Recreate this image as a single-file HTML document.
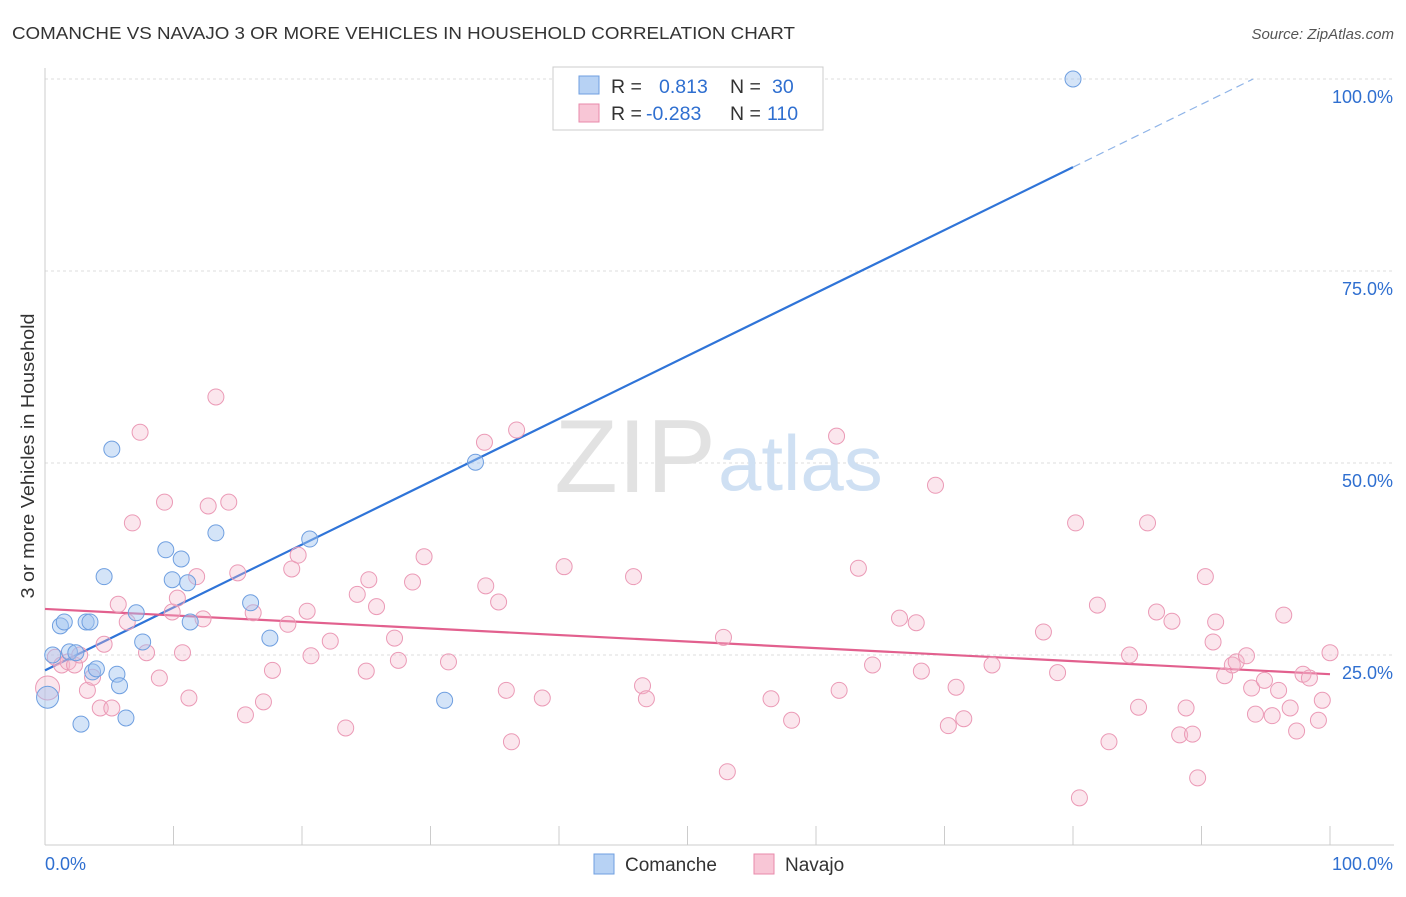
<!DOCTYPE html>
<html><head><meta charset="utf-8"><style>
body{margin:0;background:#fff;font-family:"Liberation Sans",sans-serif;}
svg text{font-family:"Liberation Sans",sans-serif;}
</style></head><body>
<svg id="chart" width="1406" height="892">
<text x="12" y="39" font-size="17.5" fill="#333" textLength="783" lengthAdjust="spacingAndGlyphs">COMANCHE VS NAVAJO 3 OR MORE VEHICLES IN HOUSEHOLD CORRELATION CHART</text>
<text x="1394" y="39" font-size="15" fill="#555" font-style="italic" text-anchor="end">Source: ZipAtlas.com</text>
<text transform="translate(34,456) rotate(-90)" font-size="18.5" fill="#333" text-anchor="middle" textLength="285" lengthAdjust="spacingAndGlyphs">3 or more Vehicles in Household</text>
<g id="grid"></g>
<text x="716" y="492" font-size="104" fill="#e2e2e2" text-anchor="end" font-family="Liberation Serif">ZIP</text>
<text x="718" y="490" font-size="78" fill="#cfe0f3">atlas</text>
<g id="lines"></g>
<g id="pts"></g>
<g>
<rect x="553" y="67" width="270" height="63" fill="#fff" stroke="#ccc"/>
<rect x="579" y="76" width="20" height="18" fill="#b7d2f4" stroke="#6f9fe0"/>
<rect x="579" y="104" width="20" height="18" fill="#f8c6d6" stroke="#e88aab"/>
<text x="611" y="93" font-size="19.5" fill="#333">R = <tspan x="659" fill="#2f6fd0">0.813</tspan><tspan x="730" fill="#333">N = </tspan><tspan x="772" fill="#2f6fd0">30</tspan></text>
<text x="611" y="120" font-size="19.5" fill="#333">R = <tspan x="646" fill="#2f6fd0">-0.283</tspan><tspan x="730" fill="#333">N = </tspan><tspan x="767" fill="#2f6fd0">110</tspan></text>
</g>
<g>
<rect x="594" y="854" width="20" height="20" fill="#b7d2f4" stroke="#6f9fe0"/>
<text x="625" y="871" font-size="19" fill="#333">Comanche</text>
<rect x="754" y="854" width="20" height="20" fill="#f8c6d6" stroke="#e88aab"/>
<text x="785" y="871" font-size="19" fill="#333">Navajo</text>
</g>
</svg>
<script>
const yTicks=[25,50,75,100];
const yTickLabels=["25.0%","50.0%","75.0%","100.0%"];
const comancheX=[0.2,0.6,1.2,1.5,1.9,2.4,2.8,3.2,3.5,3.7,4.0,4.6,5.2,5.6,5.8,6.3,7.1,7.6,9.4,9.9,10.6,11.1,11.3,13.3,16.0,17.5,20.6,31.1,33.5,80.0];
const comancheY=[19.5,25.0,28.8,29.3,25.4,25.3,16.0,29.3,29.3,22.8,23.2,35.2,51.8,22.5,21.0,16.8,30.5,26.7,38.7,34.8,37.5,34.4,29.3,40.9,31.8,27.2,40.1,19.1,50.1,100.0];
const navajoX=[0.2,0.8,1.3,1.8,2.3,2.7,3.3,3.7,4.3,4.6,5.2,5.7,6.4,6.8,7.4,7.9,8.9,9.3,9.9,10.3,10.7,11.2,11.8,12.3,12.7,13.3,14.3,15.0,15.6,16.2,17.0,17.7,18.9,19.2,19.7,20.4,20.7,22.2,23.4,24.3,25.0,25.2,25.8,27.2,27.5,28.6,29.5,31.4,34.2,34.3,35.3,35.9,36.3,36.7,38.7,40.4,45.8,46.5,46.8,52.8,53.1,56.5,58.1,61.6,61.8,63.3,64.4,66.5,67.8,68.2,69.3,70.3,70.9,71.5,73.7,77.7,78.8,80.2,80.5,81.9,82.8,84.4,85.1,85.8,86.5,87.7,88.3,88.8,89.3,89.7,90.3,90.9,91.1,91.8,92.4,92.7,93.5,93.9,94.2,94.9,95.5,96.0,96.4,96.9,97.4,97.9,98.4,99.1,99.4,100];
const navajoY=[20.7,24.7,23.7,24.1,23.7,25.0,20.4,22.1,18.1,26.4,18.1,31.6,29.3,42.2,54.0,25.3,22.0,44.9,30.6,32.4,25.3,19.4,35.2,29.7,44.4,58.6,44.9,35.7,17.2,30.5,18.9,23.0,29.0,36.2,38.0,30.7,24.9,26.8,15.5,32.9,22.9,34.8,31.3,27.2,24.3,34.5,37.8,24.1,52.7,34.0,31.9,20.4,13.7,54.3,19.4,36.5,35.2,21.0,19.3,27.3,9.8,19.3,16.5,53.5,20.4,36.3,23.7,29.8,29.2,22.9,47.1,15.8,20.8,16.7,23.7,28.0,22.7,42.2,6.4,31.5,13.7,25.0,18.2,42.2,30.6,29.4,14.6,18.1,14.7,9.0,35.2,26.7,29.3,22.3,23.7,24.1,24.9,20.7,17.3,21.7,17.1,20.4,30.2,18.1,15.1,22.5,22.0,16.5,19.1,25.3];
const comancheFit=[23.0,0.819];
const navajoFit=[31.0,-0.085];

const NS="http://www.w3.org/2000/svg";
const X=v=>45+v*12.85;
const Y=v=>847-v*7.68;
function mk(tag,attrs,parent){const e=document.createElementNS(NS,tag);for(const k in attrs)e.setAttribute(k,attrs[k]);parent.appendChild(e);return e;}
const grid=document.getElementById('grid');
yTicks.forEach((t,i)=>{
 const l=mk('line',{x1:45,x2:1394,y1:Y(t),y2:Y(t),stroke:'#ddd','stroke-dasharray':'3,3'},grid);
 
 
 const tx=mk('text',{x:1393,y:Y(t)+24,'font-size':18,fill:'#2f6fd0','text-anchor':'end'},grid);
 tx.textContent=yTickLabels[i];
 
 
});
const ax=mk('line',{x1:45,x2:1394,y1:845,y2:845,stroke:'#ccc'},grid);


const ay=mk('line',{x1:45,x2:45,y1:68,y2:845,stroke:'#ccc'},grid);


for(let i=0;i<=10;i++){
 const t=mk('line',{x1:X(i*10),x2:X(i*10),y1:826,y2:845,stroke:'#ccc'},grid);
 
 
}
const xl=mk('text',{x:45,y:870,'font-size':18,fill:'#2f6fd0'},grid);xl.textContent='0.0%';


const xr=mk('text',{x:1393,y:870,'font-size':18,fill:'#2f6fd0','text-anchor':'end'},grid);xr.textContent='100.0%';



const pts=document.getElementById('pts');
navajoX.forEach((x,i)=>{
 const c=mk('circle',{cx:X(x),cy:Y(navajoY[i]),r:i==0?12:8,fill:'rgba(244,182,204,0.35)',stroke:'#eb9ab6','stroke-width':1},pts);
 
 
});
comancheX.forEach((x,i)=>{
 const c=mk('circle',{cx:X(x),cy:Y(comancheY[i]),r:i==0?11:8,fill:'rgba(160,196,240,0.45)',stroke:'#6f9fe0','stroke-width':1},pts);
 
 
});
const lines=document.getElementById('lines');
const xEnd=(100-comancheFit[0])/comancheFit[1];
const bl=mk('line',{x1:X(0),y1:Y(comancheFit[0]),x2:X(80),y2:Y(comancheFit[0]+80*comancheFit[1]),stroke:'#2f74d8','stroke-width':2.2},lines);


const bd=mk('line',{x1:X(80),y1:Y(comancheFit[0]+80*comancheFit[1]),x2:X(xEnd),y2:Y(100),stroke:'#8fb4e8','stroke-width':1.2,'stroke-dasharray':'8,5'},lines);


const pl=mk('line',{x1:X(0),y1:Y(navajoFit[0]),x2:X(100),y2:Y(navajoFit[0]+100*navajoFit[1]),stroke:'#e2608e','stroke-width':2.2},lines);


</script>
</body></html>
